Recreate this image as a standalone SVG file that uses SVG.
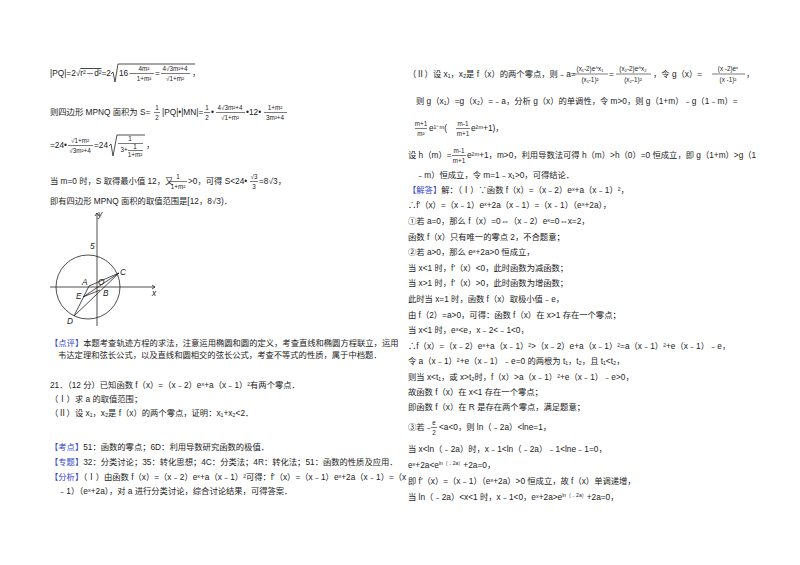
<svg xmlns="http://www.w3.org/2000/svg" width="800" height="565" viewBox="0 0 800 565">
<style>
text{font-family:"Liberation Sans","Noto Sans CJK SC",sans-serif;font-size:8.3px;fill:#222}
.b{fill:#3344cc}
.f{font-size:6.3px;text-anchor:middle}
.fl{stroke:#222;stroke-width:0.6}
.ax{stroke:#222;stroke-width:0.8;fill:none}
</style>
<rect width="800" height="565" fill="#fff"/>
<g id="left">
<text x="50" y="76">|PQ|=2√<tspan text-decoration="overline">r²－d²</tspan>=2</text>
<path class="ax" d="M111,74 L113,72 L115,82 L118,64 L195,64" stroke-width="0.6"/>
<text x="119" y="76">16－</text>
<text class="f" x="144" y="71">4m²</text><line class="fl" x1="135" y1="73.5" x2="154" y2="73.5"/><text class="f" x="144" y="81">1+m²</text>
<text x="155" y="76">=</text>
<text class="f" x="175" y="71">4√3m²+4</text><line class="fl" x1="161" y1="73.5" x2="190" y2="73.5"/><text class="f" x="175" y="81">√1+m²</text>
<text x="192" y="76">，</text>

<text x="50" y="115">则四边形 MPNQ 面积为 S=</text>
<text class="f" x="157" y="110">1</text><line class="fl" x1="154" y1="112.5" x2="160" y2="112.5"/><text class="f" x="157" y="120">2</text>
<text x="162" y="115">|PQ|•|MN|=</text>
<text class="f" x="207" y="110">1</text><line class="fl" x1="204" y1="112.5" x2="210" y2="112.5"/><text class="f" x="207" y="120">2</text>
<text x="211" y="115">•</text>
<text class="f" x="230" y="110">4√3m²+4</text><line class="fl" x1="216" y1="112.5" x2="245" y2="112.5"/><text class="f" x="230" y="120">√1+m²</text>
<text x="246" y="115">•12•</text>
<text class="f" x="275" y="110">1+m²</text><line class="fl" x1="264" y1="112.5" x2="287" y2="112.5"/><text class="f" x="275" y="120">3m²+4</text>

<text x="50" y="148">=24•</text>
<text class="f" x="80" y="143">√1+m²</text><line class="fl" x1="68" y1="145.5" x2="93" y2="145.5"/><text class="f" x="80" y="153">√3m²+4</text>
<text x="94" y="148">=24</text>
<path class="ax" d="M109,146 L111,144 L113,156 L117,135 L145,135" stroke-width="0.6"/>
<text class="f" x="130" y="141">1</text><line class="fl" x1="118" y1="143.5" x2="143" y2="143.5"/>
<text class="f" x="124" y="152">3+</text>
<text class="f" x="135" y="149">1</text><line class="fl" x1="128" y1="150.5" x2="143" y2="150.5"/><text class="f" x="135" y="157">1+m²</text>
<text x="146" y="148">，</text>

<text x="50" y="184">当 m=0 时，S 取得最小值 12，又</text>
<text class="f" x="178" y="179">1</text><line class="fl" x1="169" y1="181.5" x2="187" y2="181.5"/><text class="f" x="178" y="189">1+m²</text>
<text x="188" y="184">&gt;0，可得 S&lt;24•</text>
<text class="f" x="254" y="179">√3</text><line class="fl" x1="250" y1="181.5" x2="258" y2="181.5"/><text class="f" x="254" y="189">3</text>
<text x="259" y="184">=8√3，</text>
<text x="50" y="204">即有四边形 MPNQ 面积的取值范围是[12，8√3)．</text>
</g>
<g id="graph">
<line class="ax" x1="50" y1="287" x2="155" y2="287"/>
<line class="ax" x1="97" y1="326" x2="97" y2="213"/>
<path d="M152,285 L155,287 L152,289 M95,216 L97,213 L99,216" class="ax"/>
<circle cx="88" cy="287" r="32" class="ax"/>
<path class="ax" d="M74,316 L89,286 M74,316 L119,273 M83,297 L119,273 M83,297 L100,290 M89,286 L119,273"/>
<text x="98" y="217" font-size="6" font-style="italic">y</text>
<text x="152" y="296" font-size="6" font-style="italic">x</text>
<text x="90" y="249" font-size="6" font-style="italic">5</text>
<text x="120" y="275" font-size="7" font-style="italic">C</text>
<text x="82" y="285" font-size="7" font-style="italic">A</text>
<text x="98" y="285" font-size="7" font-style="italic">O</text>
<text x="103" y="296" font-size="7" font-style="italic">B</text>
<text x="76" y="299" font-size="7" font-style="italic">E</text>
<text x="67" y="324" font-size="7" font-style="italic">D</text>
</g>
<g id="left2">
<text x="50" y="346"><tspan class="b">【点评】</tspan>本题考查轨迹方程的求法，注意运用椭圆和圆的定义，考查直线和椭圆方程联立，运用</text>
<text x="58" y="358">韦达定理和弦长公式，以及直线和圆相交的弦长公式，考查不等式的性质，属于中档题．</text>
<text x="50" y="388">21．（12 分）已知函数 f（x）=（x﹣2）eˣ+a（x﹣1）²有两个零点．</text>
<text x="50" y="402">（Ⅰ）求 a 的取值范围；</text>
<text x="50" y="416">（Ⅱ）设 x₁，x₂是 f（x）的两个零点，证明：x₁+x₂&lt;2．</text>
<text x="50" y="450"><tspan class="b">【考点】</tspan>51：函数的零点；6D：利用导数研究函数的极值．</text>
<text x="50" y="465"><tspan class="b">【专题】</tspan>32：分类讨论；35：转化思想；4C：分类法；4R：转化法；51：函数的性质及应用．</text>
<text x="50" y="480"><tspan class="b">【分析】</tspan>（Ⅰ）由函数 f（x）=（x﹣2）eˣ+a（x﹣1）²可得：f′（x）=（x﹣1）eˣ+2a（x﹣1）=（x</text>
<text x="58" y="494">﹣1）（eˣ+2a），对 a 进行分类讨论，综合讨论结果，可得答案．</text>
</g>
<g id="right">
<text x="408" y="77">（Ⅱ）设 x₁，x₂是 f（x）的两个零点，则﹣a=</text>
<text class="f" x="590" y="71">(x₁-2)e^x₁</text><line class="fl" x1="573" y1="74" x2="608" y2="74"/><text class="f" x="590" y="82">(x₁-1)²</text>
<text x="609" y="77">=</text>
<text class="f" x="633" y="71">(x₂-2)e^x₂</text><line class="fl" x1="616" y1="74" x2="651" y2="74"/><text class="f" x="633" y="82">(x₂-1)²</text>
<text x="653" y="77">，令 g（x）=</text>
<text class="f" x="728" y="71">(x -2)eˣ</text><line class="fl" x1="712" y1="74" x2="745" y2="74"/><text class="f" x="728" y="82">(x -1)²</text>
<text x="746" y="77">，</text>
<text x="416" y="104">则 g（x₁）=g（x₂）=﹣a，分析 g（x）的单调性，令 m&gt;0，则 g（1+m）﹣g（1﹣m）=</text>
<text class="f" x="421" y="126">m+1</text><line class="fl" x1="415" y1="128.5" x2="427" y2="128.5"/><text class="f" x="421" y="136">m²</text>
<text x="429" y="131">e¹⁻ᵐ(</text>
<text class="f" x="463" y="126">m-1</text><line class="fl" x1="456" y1="128.5" x2="470" y2="128.5"/><text class="f" x="463" y="136">m+1</text>
<text x="471" y="131">e²ᵐ+1)，</text>
<text x="408" y="158">设 h（m）=</text>
<text class="f" x="459" y="153">m-1</text><line class="fl" x1="452" y1="155.5" x2="466" y2="155.5"/><text class="f" x="459" y="163">m+1</text>
<text x="467" y="158">e²ᵐ+1，m&gt;0，利用导数法可得 h（m）&gt;h（0）=0 恒成立，即 g（1+m）&gt;g（1</text>
<text x="416" y="178">﹣m）恒成立，令 m=1﹣x₁&gt;0，可得结论．</text>
<text x="408" y="193"><tspan class="b">【解答】</tspan>解：（Ⅰ）∵函数 f（x）=（x﹣2）eˣ+a（x﹣1）²，</text>
<text x="408" y="208">∴f′（x）=（x﹣1）eˣ+2a（x﹣1）=（x﹣1）（eˣ+2a），</text>
<text x="408" y="224">①若 a=0，那么 f（x）=0⇔（x﹣2）eˣ=0⇔x=2，</text>
<text x="408" y="240">函数 f（x）只有唯一的零点 2，不合题意；</text>
<text x="408" y="255">②若 a&gt;0，那么 eˣ+2a&gt;0 恒成立，</text>
<text x="408" y="271">当 x&lt;1 时，f′（x）&lt;0，此时函数为减函数；</text>
<text x="408" y="286">当 x&gt;1 时，f′（x）&gt;0，此时函数为增函数；</text>
<text x="408" y="302">此时当 x=1 时，函数 f（x）取极小值﹣e，</text>
<text x="408" y="318">由 f（2）=a&gt;0，可得：函数 f（x）在 x&gt;1 存在一个零点；</text>
<text x="408" y="333">当 x&lt;1 时，eˣ&lt;e，x﹣2&lt;﹣1&lt;0，</text>
<text x="408" y="349">∴f（x）=（x﹣2）eˣ+a（x﹣1）²&gt;（x﹣2）e+a（x﹣1）²=a（x﹣1）²+e（x﹣1）﹣e，</text>
<text x="408" y="364">令 a（x﹣1）²+e（x﹣1）﹣e=0 的两根为 t₁，t₂，且 t₁&lt;t₂，</text>
<text x="408" y="380">则当 x&lt;t₁，或 x&gt;t₂时，f（x）&gt;a（x﹣1）²+e（x﹣1）﹣e&gt;0，</text>
<text x="408" y="395">故函数 f（x）在 x&lt;1 存在一个零点；</text>
<text x="408" y="410">即函数 f（x）在 R 是存在两个零点，满足题意；</text>
<text x="408" y="430">③若﹣</text>
<text class="f" x="434" y="425">e</text><line class="fl" x1="431" y1="427.5" x2="437" y2="427.5"/><text class="f" x="434" y="435">2</text>
<text x="439" y="430">&lt;a&lt;0，则 ln（﹣2a）&lt;lne=1，</text>
<text x="408" y="452">当 x&lt;ln（﹣2a）时，x﹣1&lt;ln（﹣2a）﹣1&lt;lne﹣1=0，</text>
<text x="408" y="468">eˣ+2a&lt;e<tspan font-size="5" dy="-3">ln（﹣2a）</tspan><tspan dy="3">+2a=0，</tspan></text>
<text x="408" y="484">即 f′（x）=（x﹣1）（eˣ+2a）&gt;0 恒成立，故 f（x）单调递增，</text>
<text x="408" y="500">当 ln（﹣2a）&lt;x&lt;1 时，x﹣1&lt;0，eˣ+2a&gt;e<tspan font-size="5" dy="-3">ln（﹣2a）</tspan><tspan dy="3">+2a=0，</tspan></text>
</g>
</svg>
